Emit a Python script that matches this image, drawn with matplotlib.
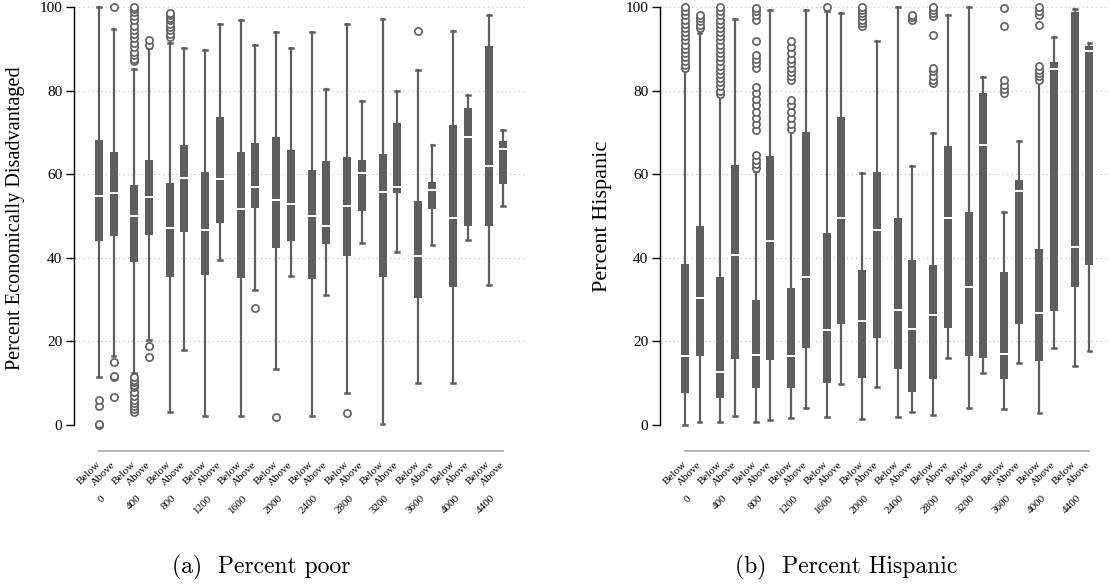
import matplotlib
matplotlib.use('Agg')
import matplotlib.pyplot as plt

GROUPS = ['0', '400', '800', '1200', '1600', '2000', '2400', '2800', '3200', '3600', '4000', '4400']
SIDES = ['Below', 'Above']

# percent economically disadvantaged, boxes in order 0 Below, 0 Above, 400 Below, ...
poor_whislo = [11.4, 16.5, 12.4, 20.4, 3.2, 18.0, 2.2, 39.5, 2.2, 32.3, 13.4, 35.7,
               2.2, 31.1, 7.6, 43.5, 0.2, 41.5, 10.1, 43.1, 10.0, 44.3, 33.5, 52.3]
poor_q1 = [44.1, 45.3, 39.1, 45.5, 35.3, 46.1, 35.8, 48.4, 35.1, 51.9, 42.3, 44.1,
           34.9, 43.3, 40.5, 51.1, 35.5, 55.5, 30.5, 51.6, 33.1, 47.5, 47.5, 57.6]
poor_med = [54.8, 55.5, 49.9, 54.5, 47.1, 59.2, 46.7, 58.8, 51.6, 56.9, 53.9, 52.8,
            49.9, 47.6, 52.4, 60.4, 55.7, 56.9, 40.5, 56.3, 49.6, 68.9, 61.9, 66.0]
poor_q3 = [68.1, 65.3, 57.5, 63.4, 57.9, 66.9, 60.5, 73.7, 65.4, 67.4, 68.9, 65.8,
           61.1, 63.2, 64.0, 63.4, 64.9, 72.2, 53.6, 58.1, 71.8, 75.8, 90.7, 68.0]
poor_whishi = [100, 94.7, 85.2, 90.2, 91.4, 90.2, 89.8, 95.9, 97.0, 91.0, 94.0, 90.2,
               94.0, 80.4, 96.0, 77.6, 97.2, 79.8, 85.0, 66.9, 94.3, 79.0, 98.2, 70.6]
poor_fliers = [
    [0, 0.3, 4.6, 6.0],
    [6.8, 11.4, 11.8, 15.0, 100],
    [3.2, 3.8, 4.5, 5.2, 6.0, 7.0, 8.0, 9.0, 9.6, 10.2, 10.8, 11.4,
     87.0, 87.6, 88.5, 89.3, 90.5, 91.5, 92.5, 93.5, 94.4, 95.5, 96.8, 97.8, 98.8, 99.5, 100],
    [16.2, 18.8, 90.8, 92.2],
    [92.8, 93.6, 94.4, 95.2, 96.0, 96.8, 97.4, 98.0, 98.6],
    [], [], [], [],
    [27.9],
    [1.8],
    [], [], [],
    [2.8],
    [], [], [],
    [94.2],
    [], [], [], [], [],
]

# percent hispanic
hisp_whislo = [0, 0.6, 0.6, 2.2, 0.8, 1.2, 1.6, 4.0, 2.0, 9.8, 1.4, 9.0,
               2.0, 3.0, 2.4, 16.1, 4.0, 12.4, 3.8, 14.9, 2.8, 18.4, 14.0, 17.6]
hisp_q1 = [7.6, 16.4, 6.4, 15.8, 8.8, 15.6, 8.9, 18.5, 10.1, 24.2, 11.3, 20.9,
           13.4, 8.0, 11.0, 23.3, 16.4, 16.0, 10.9, 24.1, 15.2, 27.3, 33.0, 38.3]
hisp_med = [16.5, 30.3, 12.6, 40.7, 16.8, 44.1, 16.5, 35.5, 22.7, 49.6, 25.0, 46.7,
            27.5, 22.9, 26.3, 49.5, 33.0, 66.9, 16.9, 56.1, 26.9, 85.2, 42.7, 89.5]
hisp_q3 = [38.5, 47.7, 35.5, 62.3, 29.9, 64.4, 32.7, 70.2, 45.9, 73.7, 37.1, 60.5,
           49.5, 39.5, 38.3, 66.8, 50.9, 79.4, 36.6, 58.5, 42.1, 86.8, 98.8, 90.6]
hisp_whishi = [85.0, 93.8, 78.6, 97.1, 60.7, 99.4, 70.5, 99.4, 99.0, 98.6, 60.3, 91.8,
               100, 61.9, 69.8, 98.2, 100, 83.2, 50.9, 68.0, 82.2, 92.8, 99.6, 91.5]
hisp_fliers = [
    [85.5, 86.2, 87.0, 88.0, 89.0, 90.0, 91.0, 92.0, 93.0, 94.0, 95.0, 96.0, 97.0, 98.0, 99.0, 100],
    [95.0, 95.8, 96.6, 97.4, 98.2],
    [79.2, 80.0, 81.0, 82.0, 83.0, 84.0, 85.0, 86.0, 87.0, 88.0, 89.0, 90.0, 91.0,
     92.0, 93.0, 94.0, 95.0, 96.0, 97.0, 98.0, 99.0, 100],
    [],
    [61.5, 62.5, 63.5, 64.5, 70.6, 72.0, 73.5, 75.0, 76.5, 78.0, 79.5, 80.8,
     85.5, 86.5, 87.5, 88.5, 91.8, 97.0, 98.0, 99.0, 99.8],
    [],
    [70.8, 72.0, 73.5, 75.0, 76.5, 77.8, 82.6, 83.5, 84.5, 85.5, 86.5, 87.5, 89.0, 90.5, 91.8],
    [],
    [100],
    [],
    [95.4, 96.2, 97.0, 97.8, 98.6, 99.4, 100],
    [],
    [],
    [97.0, 97.6, 98.2],
    [81.8, 82.6, 83.4, 84.6, 85.4, 93.4, 97.8, 98.6, 99.4, 100],
    [],
    [],
    [],
    [79.4, 80.4, 81.4, 82.6, 95.4, 99.8],
    [],
    [82.6, 83.4, 84.2, 85.0, 85.8, 95.8, 98.2, 99.0, 100],
    [], [], [],
]

BOX = '#5e5e5e'
SERIF = ['Liberation Serif', 'DejaVu Serif']
CM = ['cmr10', 'DejaVu Serif']

W, H = 1110, 586


def draw_panel(ax, whislo, q1, med, q3, whishi, fliers, xright):
    stats = []
    for i in range(len(med)):
        stats.append(dict(whislo=whislo[i], q1=q1[i], med=med[i], q3=q3[i],
                          whishi=whishi[i], fliers=fliers[i]))
    pos = []
    for g in range(len(GROUPS)):
        pos += [g - 0.205, g + 0.205]

    art = ax.bxp(stats, positions=pos, widths=0.225, capwidths=0.11,
                 patch_artist=True, showfliers=True,
                 boxprops=dict(facecolor=BOX, edgecolor='none', linewidth=0),
                 medianprops=dict(color='white', linewidth=1.4, solid_capstyle='butt'),
                 whiskerprops=dict(color=BOX, linewidth=1.6),
                 capprops=dict(color=BOX, linewidth=1.8),
                 flierprops=dict(marker='o', markerfacecolor='white', markeredgecolor=BOX,
                                 markersize=5.2, markeredgewidth=1.2, linestyle='none'))
    for key in art:
        for a in art[key]:
            a.set_clip_on(False)

    ax.set_xlim(-0.91, xright)
    ax.set_ylim(0, 100)
    ax.set_yticks([0, 20, 40, 60, 80, 100])
    ax.set_axisbelow(True)
    ax.yaxis.grid(True, linestyle=(0, (1, 3)), color='#bdbdbd', linewidth=0.8)

    ax.spines['top'].set_visible(False)
    ax.spines['right'].set_visible(False)
    ax.spines['left'].set_bounds(0, 100)
    ax.spines['left'].set_linewidth(1.0)
    ax.spines['bottom'].set_position(('outward', 19))
    ax.spines['bottom'].set_bounds(pos[0], pos[-1])
    ax.spines['bottom'].set_color('#b5b5b5')
    ax.spines['bottom'].set_linewidth(1.4)

    ax.set_xticks(pos)
    ax.set_xticklabels(SIDES * len(GROUPS), rotation=45, ha='right', va='center',
                       rotation_mode='anchor', fontsize=8, family=SERIF)
    ax.tick_params(axis='x', length=0, pad=8.5)
    ax.tick_params(axis='y', length=5.5, width=1, labelsize=11, pad=3)
    for lab in ax.get_yticklabels():
        lab.set_family(SERIF)

    for g in range(len(GROUPS)):
        ax.text(g - 0.06, -0.172, GROUPS[g], transform=ax.get_xaxis_transform(),
                rotation=45, ha='right', va='center', rotation_mode='anchor',
                fontsize=8, family=SERIF)


fig = plt.figure(figsize=(W / 100, H / 100), dpi=100)

ax1 = fig.add_axes([74 / W, 161 / H, (528 - 74) / W, 418 / H])
draw_panel(ax1, poor_whislo, poor_q1, poor_med, poor_q3, poor_whishi, poor_fliers, 11.90)

ax2 = fig.add_axes([660 / W, 161 / H, (1107 - 660) / W, 418 / H])
draw_panel(ax2, hisp_whislo, hisp_q1, hisp_med, hisp_q3, hisp_whishi, hisp_fliers, 11.70)

fig.text(16 / W, 1 - 218 / H, 'Percent Economically Disadvantaged', rotation=90,
         ha='center', va='center', fontsize=14.6, family=SERIF)
fig.text(602 / W, 1 - 216 / H, 'Percent Hispanic', rotation=90,
         ha='center', va='center', fontsize=16, family=SERIF)

fig.text(261 / W, 1 - 567 / H, '(a)  Percent poor', ha='center', va='center',
         fontsize=17, family=CM)
fig.text(846 / W, 1 - 567 / H, '(b)  Percent Hispanic', ha='center', va='center',
         fontsize=17, family=CM)

fig.savefig('out.png', dpi=100)
